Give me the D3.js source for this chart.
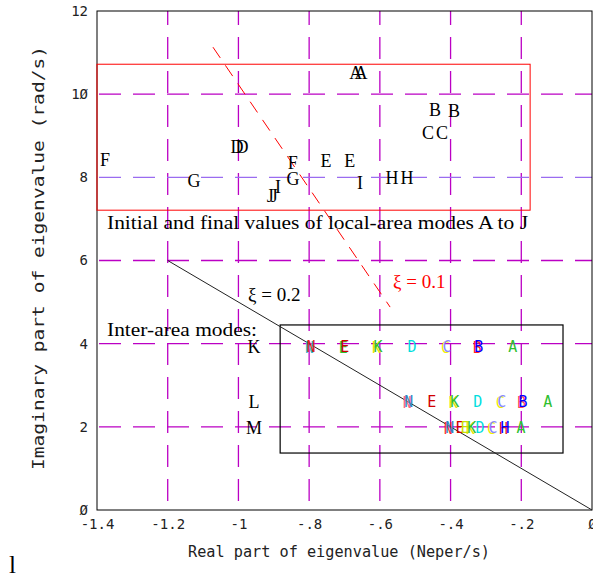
<!DOCTYPE html>
<html><head><meta charset="utf-8">
<script src="https://cdn.jsdelivr.net/npm/d3@7"></script>
<style>body{margin:0;background:#fff}svg{display:block}</style>
</head><body>
<script>
// ---- data ----
const xTicks = [-1.4, -1.2, -1, -0.8, -0.6, -0.4, -0.2, 0];
const xTickLabels = ["-1.4", "-1.2", "-1", "-.8", "-.6", "-.4", "-.2", "Ø"];
const yTicks = [0, 2, 4, 6, 8, 10, 12];
const yTickLabels = ["Ø", "2", "4", "6", "8", "1Ø", "12"];
const xGrid = [-1.2, -1, -0.8, -0.6, -0.4, -0.2];
const yGrid = [2, 4, 6, 8, 10];

// local-area modes (initial and final values)
const localLetters = ["A","A","B","B","C","C","D","D","E","E","F","F","G","G","H","H","I","I","J","J"];
const localX = [-0.668,-0.653,-0.444,-0.390,-0.464,-0.424,-1.004,-0.990,-0.752,-0.685,-1.377,-0.846,-1.126,-0.846,-0.566,-0.523,-0.888,-0.656,-0.910,-0.899];
const localY = [10.5,10.5,9.62,9.59,9.06,9.06,8.73,8.73,8.39,8.39,8.41,8.34,7.91,7.96,7.98,7.98,7.76,7.86,7.55,7.55];

// inter-area modes: K, L, M rows
const rowNames = ["K", "L", "M"];
const rowY = [3.93, 2.6, 1.98];
const row1Letters = ["N","E","K","D","C","B","A"];
const row1X = [-0.795,-0.699,-0.605,-0.509,-0.410,-0.320,-0.224];
const row2Letters = ["N","E","K","D","C","B","A"];
const row2X = [-0.518,-0.453,-0.388,-0.323,-0.255,-0.195,-0.125];
const row3Letters = ["N","E","E","K","D","C","H","A"];
const row3X = [-0.402,-0.373,-0.359,-0.340,-0.317,-0.280,-0.246,-0.201];
const row1Colors = ["#e02020","#d00000","#30c030","#00dede","#8888ff","#0000ff","#30c030"];
const row1Under = ["#30b0c8","#30c030","#e6e600",null,"#f0f000","#ff2020",null];
const row2Colors = ["#3088c0","#d00000","#30c030","#00dede","#8888ff","#0000ff","#30c030"];
const row2Under = ["#ff6080",null,"#e6e600",null,"#f0f000","#ff5050",null];
const row3Colors = ["#3088c0","#d00000","#c8e000","#30c030","#00dede","#8888ff","#0000ff","#30c030"];
const row3Under = ["#ff3030",null,null,"#e6e600",null,"#f0f000","#e02020",null];

// damping lines and boxes
const xi02Line = [[-1.2, 6.0], [0, 0]];
const xi01Line = [[-1.072, 11.13], [-0.571, 4.88]];
const localBox = {x0: -1.4, x1: -0.175, y0: 7.21, y1: 10.72};
const interBox = {x0: -0.882, x1: -0.082, y0: 1.37, y1: 4.45};

// ---- drawing ----
const W = 593, H = 580;
const svg = d3.select("body").append("svg").attr("width", W).attr("height", H);
const x = d3.scaleLinear().domain([-1.4, 0]).range([97, 592]);
const y = d3.scaleLinear().domain([0, 12]).range([510, 11]);
const mono = "'DejaVu Sans Mono', 'Liberation Mono', monospace";
const serif = "'Liberation Serif', 'Times New Roman', serif";
const mag = "#bb00c4";

// grid
svg.append("g").selectAll("line").data(xGrid).join("line")
  .attr("x1", d => x(d)).attr("x2", d => x(d)).attr("y1", y(12)).attr("y2", y(0))
  .attr("stroke", mag).attr("stroke-width", 1.3).attr("stroke-dasharray", "22,12")
  .attr("stroke-dashoffset", 8);
svg.append("g").selectAll("line").data(yGrid).join("line")
  .attr("x1", x(-1.4)).attr("x2", x(0)).attr("y1", d => y(d)).attr("y2", d => y(d))
  .attr("stroke", d => d === 8 ? "#9a6cf0" : mag).attr("stroke-width", 1.3)
  .attr("stroke-dasharray", "22,12").attr("stroke-dashoffset", -2);

// frame
svg.append("rect").attr("x", x(-1.4)).attr("y", y(12))
  .attr("width", x(0) - x(-1.4)).attr("height", y(0) - y(12))
  .attr("fill", "none").attr("stroke", "#000").attr("stroke-width", 1);

// axes
const xAxis = d3.axisBottom(x).tickValues(xTicks).tickSize(0).tickPadding(9)
  .tickFormat((d, i) => xTickLabels[i]);
const gx = svg.append("g").attr("transform", `translate(0,${y(0)})`).call(xAxis);
gx.select(".domain").remove();
gx.selectAll("text").attr("font-family", mono).attr("font-size", 14).attr("fill", "#222");

const yAxis = d3.axisLeft(y).tickValues(yTicks).tickSize(0).tickPadding(9)
  .tickFormat((d, i) => yTickLabels[i]);
const gy = svg.append("g").attr("transform", `translate(${x(-1.4)},0)`).call(yAxis);
gy.select(".domain").remove();
gy.selectAll("text").attr("font-family", mono).attr("font-size", 14).attr("fill", "#222");

svg.append("text").attr("x", 339).attr("y", 557).attr("text-anchor", "middle")
  .attr("font-family", mono).attr("font-size", 15).attr("fill", "#222")
  .attr("textLength", 302).attr("lengthAdjust", "spacingAndGlyphs")
  .text("Real part of eigenvalue (Neper/s)");
svg.append("text").attr("transform", "translate(44,258) rotate(-90)").attr("text-anchor", "middle")
  .attr("font-family", mono).attr("font-size", 16).attr("fill", "#222")
  .attr("textLength", 424).attr("lengthAdjust", "spacingAndGlyphs")
  .text("Imaginary part of eigenvalue (rad/s)");

// boxes
svg.append("rect").attr("x", x(localBox.x0)).attr("y", y(localBox.y1))
  .attr("width", x(localBox.x1) - x(localBox.x0)).attr("height", y(localBox.y0) - y(localBox.y1))
  .attr("fill", "none").attr("stroke", "#ff0000").attr("stroke-width", 1);
svg.append("rect").attr("x", x(interBox.x0)).attr("y", y(interBox.y1))
  .attr("width", x(interBox.x1) - x(interBox.x0)).attr("height", y(interBox.y0) - y(interBox.y1))
  .attr("fill", "none").attr("stroke", "#000").attr("stroke-width", 1.2);

// damping lines
const line = d3.line().x(d => x(d[0])).y(d => y(d[1]));
svg.append("path").attr("d", line(xi02Line)).attr("stroke", "#222").attr("stroke-width", 1).attr("fill", "none");
svg.append("path").attr("d", line(xi01Line)).attr("stroke", "#ff0000").attr("stroke-width", 1)
  .attr("stroke-dasharray", "13,9").attr("fill", "none");

// local-area letters
svg.append("g").selectAll("text").data(localLetters).join("text")
  .attr("x", (d, i) => x(localX[i])).attr("y", (d, i) => y(localY[i]))
  .attr("text-anchor", "middle").attr("dominant-baseline", "central")
  .attr("font-family", serif).attr("font-size", 18).attr("fill", "#000").text(d => d);

// texts
svg.append("text").attr("x", 107).attr("y", 229).attr("font-family", serif).attr("font-size", 19)
  .attr("textLength", 421).attr("lengthAdjust", "spacingAndGlyphs")
  .text("Initial and final values of local-area modes A to J");
svg.append("text").attr("x", 107).attr("y", 336).attr("font-family", serif).attr("font-size", 19)
  .attr("textLength", 150).attr("lengthAdjust", "spacingAndGlyphs")
  .text("Inter-area modes:");
svg.append("text").attr("x", 248).attr("y", 301).attr("font-family", serif).attr("font-size", 19)
  .text("ξ = 0.2");
svg.append("text").attr("x", 393).attr("y", 288).attr("font-family", serif).attr("font-size", 19)
  .attr("fill", "#ff0000").text("ξ = 0.1");
svg.append("g").selectAll("text").data(rowNames).join("text")
  .attr("x", 254).attr("y", (d, i) => y(rowY[i]))
  .attr("text-anchor", "middle").attr("dominant-baseline", "central")
  .attr("font-family", serif).attr("font-size", 18).text(d => d);

// inter-area coloured letters
function drawRow(letters, xs, yv, cols, under) {
  const g = svg.append("g").attr("font-family", mono).attr("font-size", 15)
    .attr("text-anchor", "middle").attr("dominant-baseline", "central");
  letters.forEach((d, i) => {
    if (under[i]) g.append("text").attr("x", x(xs[i]) - 1.5).attr("y", y(yv) + 1)
      .attr("fill", under[i]).text(d);
  });
  letters.forEach((d, i) => {
    g.append("text").attr("x", x(xs[i])).attr("y", y(yv)).attr("fill", cols[i]).text(d);
  });
}
drawRow(row1Letters, row1X, rowY[0], row1Colors, row1Under);
drawRow(row2Letters, row2X, rowY[1], row2Colors, row2Under);
drawRow(row3Letters, row3X, rowY[2], row3Colors, row3Under);

// stray glyph at bottom left
svg.append("text").attr("x", 9).attr("y", 573).attr("font-family", serif).attr("font-size", 25).text("l");
</script>
</body></html>
